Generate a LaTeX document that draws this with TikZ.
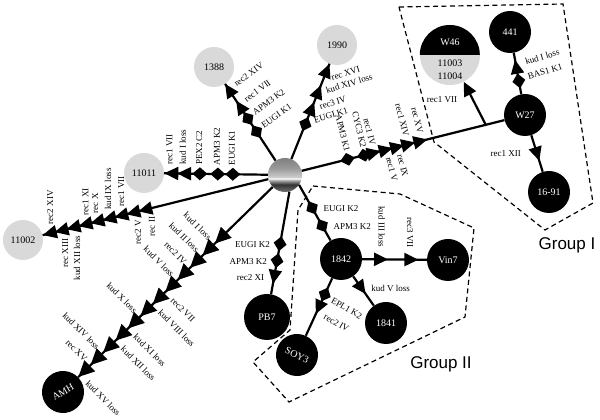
\documentclass[tikz,border=0pt]{standalone}
\usepackage{fontspec}
\setmainfont{Liberation Serif}
\newfontfamily\grpfont{Liberation Sans}
\usetikzlibrary{arrows.meta,decorations.markings}
\pgfdeclareverticalshading{hubshade}{100bp}{color(0bp)=(black!55); color(25bp)=(black!55); color(36bp)=(black!80); color(42bp)=(black!35); color(45bp)=(white); color(47bp)=(black!20); color(60bp)=(black!40); color(75bp)=(black!50); color(100bp)=(black!50)}
\tikzset{dia/.tip={Diamond[length=15pt,width=13pt]}, tri/.tip={Triangle[length=14pt,width=13pt]},
  bigtri/.tip={Triangle[length=16pt,width=15pt]}}
\pgfkeys{/pgf/decoration/dm/.style={/pgf/decoration/mark=at position #1 with {\arrow{dia}}},
  /pgf/decoration/tm/.style={/pgf/decoration/mark=at position #1 with {\arrow{tri}}},
  /pgf/decoration/bm/.style={/pgf/decoration/mark=at position #1 with {\arrow{bigtri}}}}
\begin{document}
\begin{tikzpicture}[x=1pt, y=1pt]
    \tikzstyle{gnode} = [circle, fill=black!15, minimum size=40pt, inner sep=0pt, font=\fontsize{10}{11}\selectfont]
    \tikzstyle{bnode} = [circle, fill=black, text=white, minimum size=42pt, inner sep=0pt, font=\fontsize{10}{11}\selectfont]
    \tikzstyle{edge} = [line width=2.2pt]
    \tikzstyle{marks} = [postaction={decorate, decoration={markings, #1}}]
    \tikzstyle{lab} = [font=\fontsize{9}{10}\selectfont, inner sep=1pt]
    \tikzstyle{grpline} = [line width=1.2pt, dash pattern=on 5pt off 3.5pt]
    \tikzstyle{grplab} = [font=\grpfont\fontsize{17}{20}\selectfont]

    \useasboundingbox (0,0) rectangle (600,420);

    % groups
    \draw[grpline] (399,413) -- (563,416) -- (593,217) -- (545,190) -- (434,278) -- cycle;
    \draw[grpline] (313,234) -- (400,226) -- (474,192) -- (465,103) -- (289,18)
        -- (253,58) -- (290,90) -- (298,210) -- cycle;
    \node[grplab] (g1) at (567,175) {Group I};
    \node[grplab] (g2) at (441,56) {Group II};

    % strains
    \node[circle, minimum size=34pt, shade, shading=hubshade] (hub) at (285,245) {};
    \node[gnode] (n1388) at (214,353) {1388};
    \node[gnode] (n1990) at (337,375) {1990};
    \node[gnode] (n11011) at (144,247) {11011};
    \node[gnode] (n11002) at (23,180) {11002};
    \node[gnode, minimum size=60pt] (W46) at (450,365) {};
    \fill (W46.west) arc[start angle=180, end angle=0, radius=30pt] -- cycle;
    \node[text=white, font=\fontsize{10}{11}\selectfont] (W46a) at (450,378) {W46};
    \node[align=center, inner sep=0pt, font=\fontsize{10}{13}\selectfont] (W46b) at (450,350) {11003\\11004};
    \node[bnode] (n441) at (510,388) {441};
    \node[bnode] (W27) at (525,305) {W27};
    \node[bnode] (n1691) at (549,228) {16-91};
    \node[bnode] (n1842) at (341,161) {1842};
    \node[bnode] (Vin7) at (448,160) {Vin7};
    \node[bnode] (n1841) at (386,97) {1841};
    \node[bnode, rotate=-25] (SOY3) at (297,65) {SOY3};
    \node[bnode, minimum size=46pt] (PB7) at (267,103) {PB7};
    \node[bnode, rotate=30] (AMH) at (63,28) {AMH};

    % branches
    \draw[edge, marks={dm=.46, dm=.63, tm=.78, tm=.999},
          every node/.style={lab, rotate=36, anchor=west, outer sep=7pt}]
        (hub) -- (n1388)
        node[pos=.39] (a1) {EUGI K1}
        node[pos=.56] (a2) {APM3 K2}
        node[pos=.73] (a3) {rec1 VII}
        node[pos=.93] (a4) {rec2 XIV};

    \draw[edge, marks={dm=.41, dm=.555, dm=.728, tm=.875, tm=.999},
          every node/.style={lab, rotate=90, anchor=west, outer sep=8pt}]
        (hub) -- (n11011)
        node[pos=.346] (b1) {EUGI K1}
        node[pos=.49] (b2) {APM3 K2}
        node[pos=.663] (b3) {PEX2 C2}
        node[pos=.82] (b4) {kud I loss}
        node[pos=.95] (b5) {rec1 VII};

    \draw[edge, marks={dm=.44, tm=.60, tm=.777, tm=.999},
          every node/.style={lab, rotate=17, anchor=west, outer sep=8pt}]
        (hub) -- (n1990)
        node[pos=.376] (c1) {EUGI K1}
        node[pos=.52] (c2) {rec3 IV}
        node[pos=.69] (c3) {kud XIV loss}
        node[pos=.83] (c4) {rec XVI};

    \draw[edge, marks={dm=.262, dm=.344, tm=.39, tm=.449, tm=.505, tm=.56, tm=.62},
          every node/.style={lab, rotate=-76, outer sep=7pt}]
        (hub) -- (W27)
        node[pos=.234, anchor=east] (d1) {APM3 K1}
        node[pos=.315, anchor=east] (d2) {CYC3 K2}
        node[pos=.36, anchor=east] (d3) {rec1 IV}
        node[pos=.42, anchor=west] (d4) {rec1 V}
        node[pos=.475, anchor=west] (d5) {rec IX}
        node[pos=.525, anchor=east] (d6) {rec1 XIV}
        node[pos=.595, anchor=east] (d7) {rec XV}
        coordinate[pos=.908] (j1);

    \draw[edge, -{Triangle[length=14pt,width=13pt]}] (j1) -- (W46)
        node[lab, pos=.58, anchor=east, outer sep=15pt] (e1) {rec1 VII};

    \draw[edge, marks={dm=.5, tm=.83},
          every node/.style={lab, rotate=16, anchor=west, outer sep=9pt}]
        (W27) -- (n441)
        node[pos=.36] (f1) {BAS1 K1}
        node[pos=.72] (f2) {kud I loss};

    \draw[edge, marks={tm=.7}] (W27) -- (n1691)
        node[lab, pos=.49, anchor=east, outer sep=15pt] (h1) {rec1 XII};

    \draw[edge, marks={tm=.576, tm=.629, tm=.682, tm=.735, tm=.788, tm=.841, tm=.894, tm=.947, tm=.999},
          every node/.style={lab, rotate=90, outer sep=8pt}]
        (hub) -- (n11002)
        node[pos=.515, anchor=east] (k1) {rec II}
        node[pos=.577, anchor=east] (k2) {rec2 V}
        node[pos=.652, anchor=west] (k3) {rec1 VII}
        node[pos=.71, anchor=west] (k4) {kud IX loss}
        node[pos=.767, anchor=west] (k5) {rec X}
        node[pos=.81, anchor=west] (k6) {rec1 XI}
        node[pos=.847, anchor=east] (k7) {kud XII loss}
        node[pos=.90, anchor=east] (k8) {rec XIII}
        node[pos=.966, anchor=west] (k9) {rec2 XIV};

    \draw[edge, marks={bm=.297, bm=.361, bm=.425, bm=.489, bm=.553, bm=.617, bm=.680, bm=.744, bm=.808, bm=.872, bm=.936, bm=.999},
          every node/.style={lab, rotate=-45}]
        (hub) -- (AMH)
        node[pos=.297, anchor=east, outer sep=6pt] (m1) {kud I loss}
        node[pos=.361, anchor=east, outer sep=6pt] (m2) {kud II loss}
        node[pos=.425, anchor=east, outer sep=6pt] (m3) {rec2 IV}
        node[pos=.489, anchor=east, outer sep=6pt] (m4) {kud V loss}
        node[pos=.553, anchor=west, outer sep=9pt] (m5) {rec2 VII}
        node[pos=.617, anchor=west, outer sep=9pt] (m6) {kud VIII loss}
        node[pos=.680, anchor=east, outer sep=6pt] (m7) {kud X loss}
        node[pos=.744, anchor=west, outer sep=9pt] (m8) {kud XI loss}
        node[pos=.808, anchor=west, outer sep=9pt] (m9) {kud XII loss}
        node[pos=.872, anchor=east, outer sep=6pt] (m10) {kud XIV loss}
        node[pos=.936, anchor=east, outer sep=6pt] (m11) {rec XV}
        node[pos=.99, anchor=west, outer sep=9pt] (m12) {kud XV loss};

    \draw[edge, marks={dm=.58, dm=.745, tm=.9},
          every node/.style={lab, anchor=east, outer sep=9pt}]
        (hub.-75) -- (PB7)
        node[pos=.52] (p1) {EUGI K2}
        node[pos=.685] (p2) {APM3 K2}
        node[pos=.84] (p3) {rec2 XI};

    \draw[edge, marks={dm=.53, dm=.85},
          every node/.style={lab, anchor=west, outer sep=10pt}]
        (hub.-35) -- (n1842)
        node[pos=.43] (q1) {EUGI K2}
        node[pos=.75] (q2) {APM3 K2};

    \draw[edge, marks={tm=.40, tm=.87},
          every node/.style={lab, rotate=-90, anchor=east, outer sep=11pt}]
        (n1842) -- (Vin7)
        node[pos=.30] (r1) {kud III loss}
        node[pos=.74] (r2) {rec3 VII};

    \draw[edge, marks={tm=.6}] (n1842) -- (n1841)
        node[lab, pos=.4, anchor=west, outer sep=9pt] (s1) {kud V loss};

    \draw[edge, marks={dm=.4, tm=.62},
          every node/.style={lab, rotate=-30, anchor=west, outer sep=8pt}]
        (n1842) -- (SOY3)
        node[pos=.30] (t1) {EPL1 K2}
        node[pos=.58] (t2) {rec2 IV};
\end{tikzpicture}
\end{document}
